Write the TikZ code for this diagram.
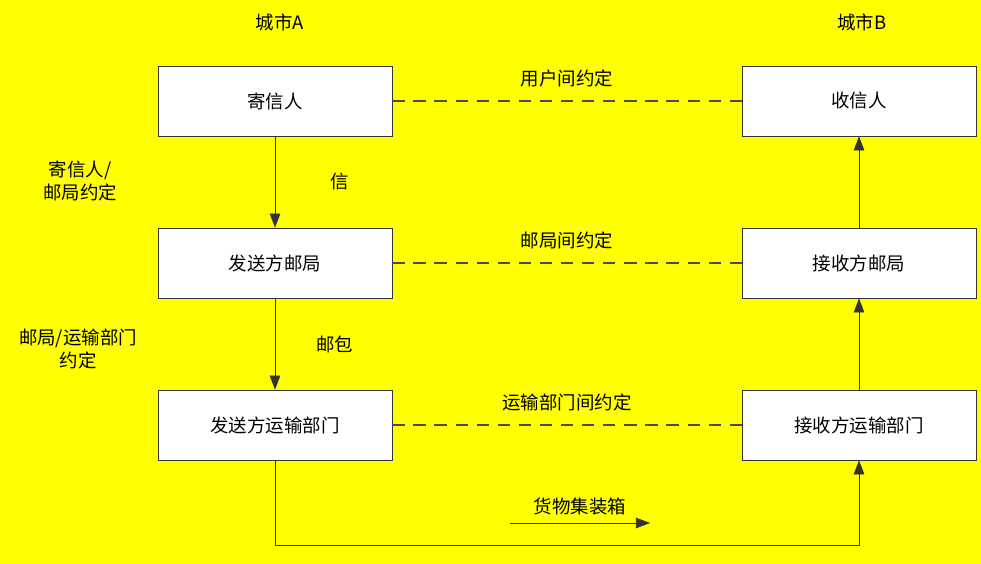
\documentclass[tikz,border=0pt]{standalone}
\usepackage{fontspec}
\newfontfamily\cjk{Noto Sans CJK SC}
\usetikzlibrary{positioning,arrows.meta}
\definecolor{bgyellow}{RGB}{255,255,0}

\begin{document}
\begin{tikzpicture}[x=0.02cm,y=-0.02cm,
	font=\cjk\fontsize{10.5}{13}\selectfont,
	unit/.style={draw=black!80,fill=white,minimum width=4.68cm,minimum height=1.4cm},
	deal/.style={dashed,dash pattern=on 7pt off 5pt,thick,draw=black!70},
	flow/.style={-{Triangle[length=8pt,width=6pt]},draw=black!80}]
	\fill[bgyellow] (0,0) rectangle (981,564);
	\useasboundingbox (0,0) rectangle (981,564);
	% senders in city A
	\node[unit] (sender) at (275,101) {寄信人};
	\node[unit] (spost)  at (275,263) {发送方邮局};
	\node[unit] (strans) at (275,425) {发送方运输部门};
	% receivers in city B
	\node[unit] (recv)   at (859,101) {收信人};
	\node[unit] (rpost)  at (859,263) {接收方邮局};
	\node[unit] (rtrans) at (859,425) {接收方运输部门};
	\node (cityA) at (280,22) {城市A};
	\node (cityB) at (862,22) {城市B};
	% agreements
	\draw[deal] (sender) -- (recv) node[midway,above=4pt] {用户间约定};
	\draw[deal] (spost)  -- (rpost) node[midway,above=4pt] {邮局间约定};
	\draw[deal] (strans) -- (rtrans) node[midway,above=4pt] {运输部门间约定};
	% flows
	\draw[flow] (sender) -- (spost) node[midway,right=28pt] {信};
	\draw[flow] (spost) -- (strans) node[midway,right=20pt] {邮包};
	\draw[flow] (rtrans) -- (rpost);
	\draw[flow] (rpost) -- (recv);
	\coordinate (bl) at (275,545);
	\coordinate (br) at (859,545);
	\draw[flow] (strans.south) -- (bl) -- (br) -- (rtrans.south);
	\coordinate (boxa) at (510,523);
	\coordinate (boxb) at (650,523);
	\draw[flow] (boxa) -- (boxb) node[midway,above=1pt] {货物集装箱};
	\node[align=center] (agr1) at (80,181) {寄信人/\\邮局约定};
	\node[align=center] (agr2) at (78,349) {邮局/运输部门\\约定};
\end{tikzpicture}
\end{document}
